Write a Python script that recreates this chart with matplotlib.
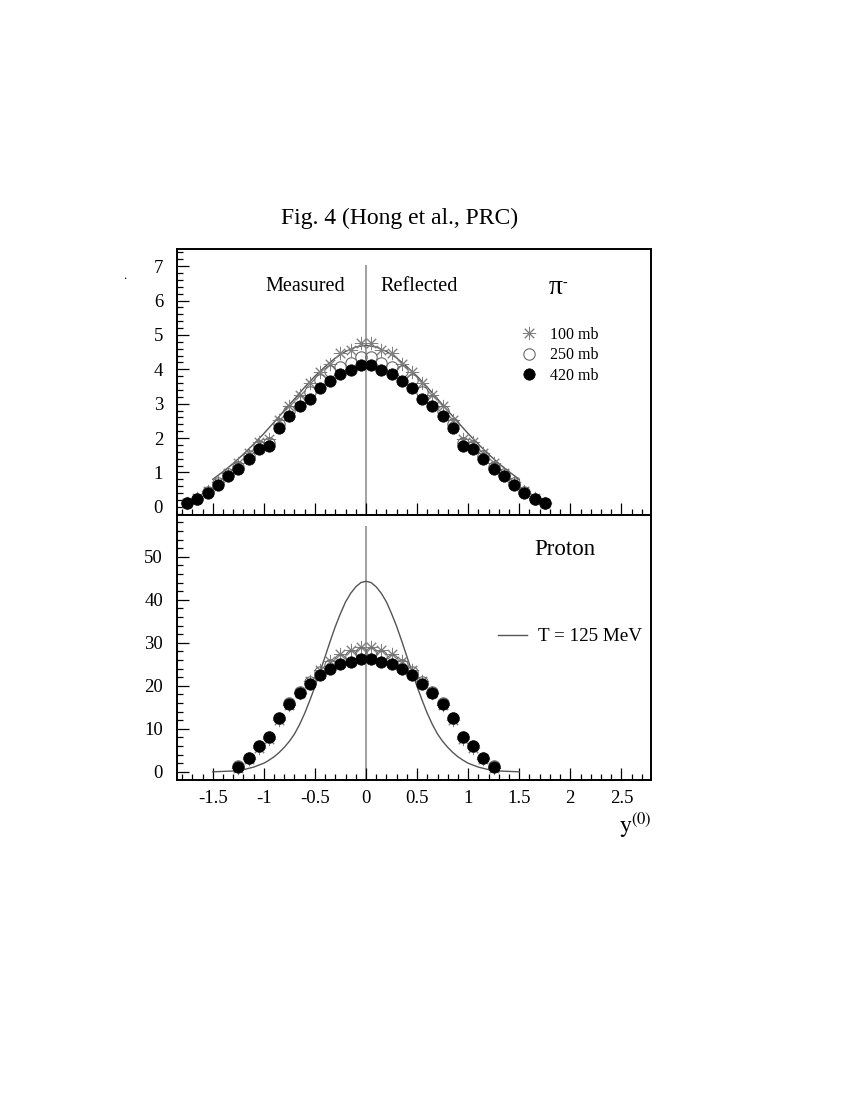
import matplotlib
matplotlib.use("Agg")
import matplotlib.pyplot as plt
from matplotlib.ticker import MultipleLocator, FuncFormatter
from matplotlib.lines import Line2D

plt.rcParams['font.family'] = ['Liberation Serif', 'DejaVu Serif']
plt.rcParams['mathtext.fontset'] = 'stix'
plt.rcParams['axes.unicode_minus'] = False

# ---------------- data ----------------
# pi- : measured half (backward rapidity), reflected to forward side
y_pi = [-1.75, -1.65, -1.55, -1.45, -1.35, -1.25, -1.15, -1.05, -0.95,
        -0.85, -0.75, -0.65, -0.55, -0.45, -0.35, -0.25, -0.15, -0.05]
pi_100mb = [0.12, 0.26, 0.45, 0.72, 0.99, 1.27, 1.56, 1.88, 1.97,
            2.53, 2.94, 3.25, 3.60, 3.92, 4.15, 4.47, 4.57, 4.76]
pi_250mb = [0.11, 0.24, 0.42, 0.68, 0.95, 1.17, 1.47, 1.78, 1.86,
            2.40, 2.78, 3.08, 3.35, 3.69, 3.94, 4.08, 4.18, 4.37]
pi_420mb = [0.10, 0.22, 0.39, 0.63, 0.90, 1.10, 1.40, 1.68, 1.77,
            2.29, 2.65, 2.92, 3.14, 3.46, 3.67, 3.87, 3.97, 4.12]

# proton
y_p = [-1.25, -1.15, -1.05, -0.95, -0.85, -0.75, -0.65,
       -0.55, -0.45, -0.35, -0.25, -0.15, -0.05]
p_100mb = [1.0, 2.9, 5.6, 7.6, 12.1, 15.5, 18.4, 21.0, 23.6, 25.8, 27.5, 28.4, 29.0]
p_250mb = [1.3, 3.3, 6.0, 8.1, 12.6, 15.9, 18.6, 20.9, 23.2, 24.9, 26.1, 26.9, 27.7]
p_420mb = [1.2, 3.2, 5.9, 8.0, 12.5, 15.7, 18.3, 20.5, 22.6, 24.0, 25.1, 25.6, 26.3]

# model curves (half, y >= 0)
curve_pi_y = [0.0, 0.1, 0.2, 0.3, 0.4, 0.5, 0.6, 0.7, 0.8, 0.9, 1.0,
              1.1, 1.2, 1.3, 1.4, 1.5]
curve_pi = [4.70, 4.65, 4.52, 4.33, 4.08, 3.80, 3.48, 3.14, 2.80, 2.46,
            2.13, 1.82, 1.53, 1.26, 1.02, 0.80]
curve_p_y = [0.0, 0.05, 0.1, 0.15, 0.2, 0.25, 0.3, 0.35, 0.4, 0.45, 0.5,
             0.55, 0.6, 0.65, 0.7, 0.75, 0.8, 0.85, 0.9, 0.95, 1.0,
             1.1, 1.2, 1.3, 1.4, 1.5]
curve_p = [44.3, 44.0, 43.0, 41.5, 39.5, 36.8, 33.8, 30.4, 26.8, 23.3, 19.8,
           16.6, 13.6, 11.0, 8.8, 7.1, 5.7, 4.5, 3.5, 2.7, 2.0,
           1.1, 0.5, 0.2, 0.1, 0.0]

series_labels = ['100 mb', '250 mb', '420 mb']
curve_label = 'T = 125 MeV'

xlim = (-1.85, 2.79)
ylim_top = (-0.24, 7.5)
ylim_bot = (-1.9, 59.7)
vline_top = 7.0
vline_bot = 56.9


def reflect(x, v):
    return list(x) + [-a for a in x[::-1]], list(v) + list(v[::-1])


def full_curve(x, v):
    return [-a for a in x[:0:-1]] + list(x), list(v[:0:-1]) + list(v)


fmt = FuncFormatter(lambda v, p: '0' if abs(v) < 1e-9 else f'{v:g}')

fig = plt.figure(figsize=(8.51, 11), dpi=100)
ax1 = fig.add_axes([0.2080, 0.5318, 0.5570, 0.2418])
ax2 = fig.add_axes([0.2080, 0.2909, 0.5570, 0.2409])

star = dict(marker=(8, 2, 0), ms=9.5, mec='#808080', mew=0.7, ls='none')
openc = dict(marker='o', ms=8.2, mfc='none', mec='#6a6a6a', mew=0.8, ls='none')
filled = dict(marker='o', ms=8.2, mfc='black', mec='black', mew=0.5, ls='none')

for ax, xs, s100, s250, s420, cx0, cv, ylim, vtop in [
        (ax1, y_pi, pi_100mb, pi_250mb, pi_420mb, curve_pi_y, curve_pi, ylim_top, vline_top),
        (ax2, y_p, p_100mb, p_250mb, p_420mb, curve_p_y, curve_p, ylim_bot, vline_bot)]:
    ax.set_xlim(*xlim)
    ax.set_ylim(*ylim)
    frac = (vtop - ylim[0]) / (ylim[1] - ylim[0])
    ax.axvline(0, ymin=0, ymax=frac, color='#a0a0a0', lw=1.4, zorder=1)
    cx, cy = full_curve(cx0, cv)
    ax.plot(cx, cy, color='#555555', lw=1.0, zorder=2)
    x, v = reflect(xs, s100)
    ax.plot(x, v, zorder=3, **star)
    x, v = reflect(xs, s250)
    ax.plot(x, v, zorder=4, **openc)
    x, v = reflect(xs, s420)
    ax.plot(x, v, zorder=5, **filled)

    ax.xaxis.set_major_locator(MultipleLocator(0.5))
    ax.xaxis.set_minor_locator(MultipleLocator(0.1))
    ax.xaxis.set_major_formatter(fmt)
    ax.yaxis.set_major_formatter(fmt)
    ax.tick_params(which='both', direction='in', top=False, right=False, width=0.9)
    ax.tick_params(which='major', length=8.6)
    ax.tick_params(which='minor', length=4.3)
    ax.tick_params(axis='x', pad=7, labelsize=13.5)
    ax.tick_params(axis='y', pad=10, labelsize=13.5)
    for sp in ax.spines.values():
        sp.set_linewidth(1.4)

ax1.yaxis.set_major_locator(MultipleLocator(1))
ax1.yaxis.set_minor_locator(MultipleLocator(0.2))
ax2.yaxis.set_major_locator(MultipleLocator(10))
ax2.yaxis.set_minor_locator(MultipleLocator(2))
ax1.tick_params(axis='x', labelbottom=False)

# texts
ax1.text(-0.59, 6.41, 'Measured', ha='center', va='center', fontsize=14.5)
ax1.text(0.52, 6.41, 'Reflected', ha='center', va='center', fontsize=14.5)
ax1.text(1.86, 6.38, 'π', ha='center', va='center', fontsize=20)
ax1.text(1.95, 6.50, '-', ha='center', va='center', fontsize=10)
ax2.text(1.95, 51.7, 'Proton', ha='center', va='center', fontsize=16.5)

fig.text(400 / 851, 1 - 218 / 1100, 'Fig. 4 (Hong et al., PRC)',
         ha='center', va='center', fontsize=17)
fig.text(652 / 851, 1 - 833 / 1100, r'$\mathrm{y}^{(0)}$',
         ha='right', va='baseline', fontsize=17)
fig.text(125 / 851, 1 - 276 / 1100, '.', ha='center', va='center', fontsize=9)

# legends
h = [Line2D([], [], **star), Line2D([], [], **openc), Line2D([], [], **filled)]
leg1 = ax1.legend(h, series_labels, loc='center left',
                  bbox_to_anchor=(0.726, 0.601), frameon=False, fontsize=11.5,
                  handlelength=1.0, handletextpad=0.8, labelspacing=0.28,
                  borderpad=0, borderaxespad=0, numpoints=1)
hl = [Line2D([], [], color='#555555', lw=1.0)]
leg2 = ax2.legend(hl, [curve_label], loc='center left',
                  bbox_to_anchor=(0.677, 0.541), frameon=False, fontsize=13.8,
                  handlelength=1.5, handletextpad=0.57,
                  borderpad=0, borderaxespad=0)

fig.savefig('out.png', dpi=100)
